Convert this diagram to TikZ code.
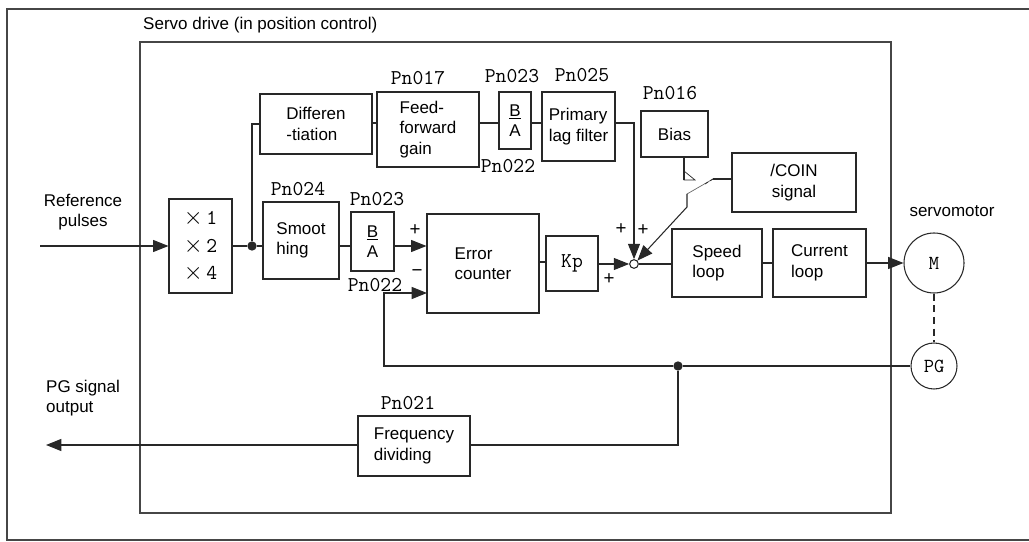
\documentclass[tikz,border=0pt]{standalone}
\usepackage{fontspec}
\setmainfont{Liberation Sans}
\usetikzlibrary{arrows.meta,positioning,calc}
\definecolor{SrvInk}{RGB}{40,40,40}
\definecolor{SrvFrame}{RGB}{70,70,70}
\tikzset{
  srv/box/.style={
    draw=SrvInk,
    line width=0.9pt,
    rectangle,
    fill=white,
    align=left,
    text=black,
    inner sep=0pt,
    font=\fontsize{14.5}{17.5}\selectfont
  },
  srv/param/.style={font=\ttfamily\fontsize{18}{20}\selectfont, text=black, inner sep=0pt},
  srv/sign/.style={font=\fontsize{16}{16}\selectfont, text=black, inner sep=0pt},
  srv/label/.style={font=\fontsize{14.5}{17.5}\selectfont, text=black, inner sep=0pt},
  srv/line/.style={draw=SrvInk, line width=0.9pt},
  srv/arrow/.style={srv/line, -{Triangle[length=0.46cm,width=0.36cm]}},
  srv/dot/.style={circle, fill=SrvInk, inner sep=0pt, minimum size=0.28cm},
  srv/sum/.style={circle, draw=SrvInk, line width=0.9pt, fill=white, inner sep=0pt, minimum size=0.26cm},
  srv/machine/.style={circle, draw=SrvInk, line width=0.9pt, fill=white, inner sep=0pt,
    font=\ttfamily\fontsize{17}{17}\selectfont}
}
\newcommand{\srvratio}{\underline{B}\\[-1pt]A}
\newcommand{\srvmul}[1]{{\fontsize{22}{22}\selectfont$\times$}\,#1}

\begin{document}
\begin{tikzpicture}[x=0.03cm,y=-0.03cm]
  \useasboundingbox (0,0) rectangle (1029,542);
  % frames
  \draw[SrvFrame, line width=0.9pt] (1029,9) -- (7,9) -- (7,540) -- (1029,540);
  \draw[SrvFrame, line width=0.9pt] (140,42) rectangle (891,513);
  \node[srv/label, anchor=west] (title) at (143,25) {Servo drive (in position control)};

  % blocks
  \node[srv/box, minimum width=1.89cm, minimum height=2.82cm, align=center,
        font=\ttfamily\fontsize{18}{23.5}\selectfont] (mult) at (200.5,246) {\srvmul{1}\\\srvmul{2}\\\srvmul{4}};
  \node[srv/box, minimum width=3.36cm, minimum height=1.80cm] (diff) at (316,124) {Differen\\-tiation};
  \node[srv/box, minimum width=3.06cm, minimum height=2.25cm] (ffgain) at (428,129.5) {Feed-\\forward\\gain};
  \node[srv/box, minimum width=0.96cm, minimum height=1.71cm, align=center] (ratioA) at (515,120.5) {\srvratio};
  \node[srv/box, minimum width=2.19cm, minimum height=2.07cm] (lagfilt) at (578.5,126.5) {Primary\\lag filter};
  \node[srv/box, minimum width=2.01cm, minimum height=1.38cm, align=center] (bias) at (674.5,134) {Bias};
  \node[srv/box, minimum width=3.72cm, minimum height=1.77cm, align=center] (coin) at (794,182.5) {/COIN\\signal};
  \node[srv/box, minimum width=2.28cm, minimum height=2.31cm] (smooth) at (301,240.5) {Smoot\\hing};
  \node[srv/box, minimum width=1.29cm, minimum height=1.77cm, align=center] (ratioB) at (372.5,241.5) {\srvratio};
  \node[srv/box, minimum width=3.36cm, minimum height=2.97cm] (errcnt) at (483,263.5) {Error\\counter};
  \node[srv/box, minimum width=1.56cm, minimum height=1.65cm, align=center,
        font=\ttfamily\fontsize{18}{18}\selectfont] (kp) at (572,263.5) {Kp};
  \node[srv/box, minimum width=2.70cm, minimum height=2.04cm] (speed) at (717,263) {Speed\\loop};
  \node[srv/box, minimum width=2.79cm, minimum height=2.04cm] (current) at (819.5,263) {Current\\loop};
  \node[srv/box, minimum width=3.36cm, minimum height=1.80cm] (freqdiv) at (414,446) {Frequency\\dividing};
  \node[srv/machine, minimum size=1.80cm] (motor) at (934,263) {M};
  \node[srv/machine, minimum size=1.38cm] (pgen) at (934,366) {PG};
  \node[srv/sum] (sum) at (634,264) {};
  \node[srv/dot] (split) at (252,246) {};
  \node[srv/dot] (tap) at (678,366) {};

  % parameter numbers
  \node[srv/param] (p017) at (418,78) {Pn017};
  \node[srv/param] (p023a) at (512,76) {Pn023};
  \node[srv/param] (p025) at (582,75) {Pn025};
  \node[srv/param] (p022a) at (508,166) {Pn022};
  \node[srv/param] (p016) at (670,93) {Pn016};
  \node[srv/param] (p024) at (298,189) {Pn024};
  \node[srv/param] (p023b) at (377,199) {Pn023};
  \node[srv/param] (p022b) at (375,285) {Pn022};
  \node[srv/param] (p021) at (408,403) {Pn021};

  % outside labels
  \node[srv/label, align=center] (reflbl) at (83,212) {Reference\\pulses};
  \node[srv/label, align=left, anchor=west] (pglbl) at (46,398) {PG signal\\output};
  \node[srv/label] (motlbl) at (952,211) {servomotor};

  % signs
  \node[srv/sign] (splus) at (415,230) {+};
  \node[srv/sign] (sminus) at (417,273) {−};
  \node[srv/sign] (tplusA) at (621,229) {+};
  \node[srv/sign] (tplusB) at (643,230) {+};
  \node[srv/sign] (kplus) at (609,279) {+};

  % free ends
  \coordinate (refin) at (40,246);
  \coordinate (pgout) at (46,445);
  \coordinate (toprow) at (0,123);
  \coordinate (fbcorner) at (384,366);
  \coordinate (errminus) at (427,293);
  \coordinate (swtop) at (684,180);
  \coordinate (pivot) at (687,194);
  \coordinate (bladeend) at (713,179);
  \coordinate (bend) at (687,207);

  % forward path
  \draw[srv/arrow] (refin) -- (mult.west);
  \draw[srv/line] (mult.east) -- (split) -- (split -| smooth.west);
  \draw[srv/line] (split) |- (diff.west);
  \draw[srv/line] (split -| smooth.east) -- (split -| ratioB.west);
  \draw[srv/arrow] (split -| ratioB.east) -- (split -| errcnt.west);
  \draw[srv/line] (errcnt.east |- 0,262) -- (kp.west |- 0,262);
  \draw[srv/arrow] (kp.east |- sum) -- (sum.west);
  \draw[srv/line] (sum.east) -- (sum.east -| speed.west);
  \draw[srv/line] (speed.east) -- (current.west);
  \draw[srv/arrow] (current.east) -- (motor.west);

  % feed-forward path
  \draw[srv/line] (diff.east |- toprow) -- (ffgain.west |- toprow);
  \draw[srv/line] (ffgain.east |- toprow) -- (ratioA.west |- toprow);
  \draw[srv/line] (ratioA.east |- toprow) -- (lagfilt.west |- toprow);
  \draw[srv/arrow] (lagfilt.east |- toprow) -| (sum.north);

  % bias switch
  \draw[srv/line] (bias.south -| swtop) -- (swtop);
  \draw[SrvInk, line width=0.6pt] (684,171) -- (swtop) -- (695,180) -- cycle;
  \draw[SrvInk!70, line width=0.6pt] (pivot) -- (bladeend);
  \draw[SrvInk, line width=0.6pt, densely dashed] (705,184) -- (bladeend);
  \draw[srv/line] (bladeend) -- (coin.west |- bladeend);
  \draw[srv/arrow] (pivot) -- (bend) -- (sum.north east);

  % feedback
  \draw[srv/line, dash pattern=on 6pt off 4pt] (motor.south) -- (pgen.north);
  \draw[srv/line] (pgen.west) -- (tap);
  \draw[srv/arrow] (tap) -- (fbcorner) |- (errminus);
  \draw[srv/line] (tap) |- (freqdiv.east |- pgout);
  \draw[srv/arrow] (freqdiv.west |- pgout) -- (pgout);
\end{tikzpicture}
\end{document}
